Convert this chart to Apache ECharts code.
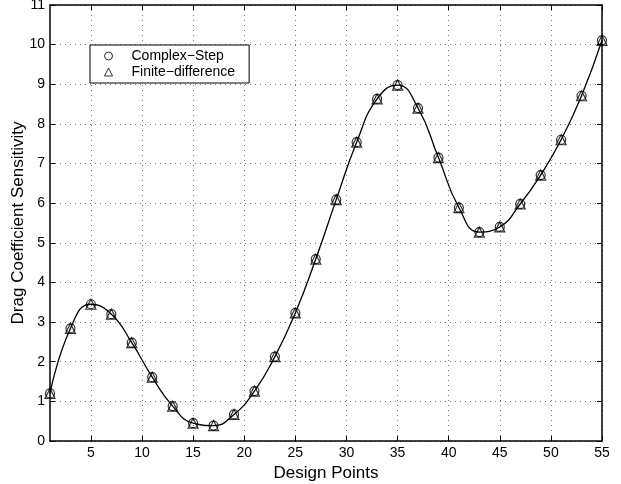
<!DOCTYPE html>
<html>
<head>
<meta charset="utf-8">
<script src="https://cdn.jsdelivr.net/npm/echarts@6/dist/echarts.min.js"></script>
<style>
  html, body { margin: 0; padding: 0; background: #fff; }
  #main { width: 621px; height: 484px; }
</style>
</head>
<body>
<div id="main"></div>
<script>
var designPoints = [1, 3, 5, 7, 9, 11, 13, 15, 17, 19, 21, 23, 25, 27, 29, 31, 33, 35, 37, 39, 41, 43, 45, 47, 49, 51, 53, 55];
var complexStep = [1.2, 2.84, 3.45, 3.2, 2.48, 1.61, 0.88, 0.45, 0.39, 0.67, 1.26, 2.13, 3.23, 4.59, 6.09, 7.54, 8.63, 8.98, 8.4, 7.15, 5.89, 5.27, 5.4, 5.98, 6.71, 7.6, 8.71, 10.11];
var finiteDiff = [1.2, 2.84, 3.45, 3.2, 2.48, 1.61, 0.88, 0.45, 0.39, 0.67, 1.26, 2.13, 3.23, 4.59, 6.09, 7.54, 8.63, 8.98, 8.4, 7.15, 5.89, 5.27, 5.4, 5.98, 6.71, 7.6, 8.71, 10.11];
var xTicks = [5, 10, 15, 20, 25, 30, 35, 40, 45, 50, 55];

function pairs(xs, ys) {
  return xs.map(function (x, i) { return [x, ys[i]]; });
}

var font = '"Liberation Sans", Arial, Helvetica, sans-serif';
var myChart = echarts.init(document.getElementById('main'));

// dotted grid like matlab
var gridLine = { show: true, lineStyle: { color: '#777', type: [1, 4], width: 1 } };

myChart.setOption({
  animation: false,
  backgroundColor: '#fff',
  grid: { left: 50, right: 19, top: 5, bottom: 43, outerBoundsMode: 'none' },
  legend: {
    orient: 'vertical',
    left: 90,
    top: 45,
    data: ['Complex\u2212Step', 'Finite\u2212difference'],
    backgroundColor: '#fff',
    borderColor: '#000',
    borderWidth: 1,
    borderRadius: 0,
    padding: [4, 14, 4, 14],
    itemGap: 2,
    itemWidth: 8,
    itemHeight: 8,
    itemStyle: { borderWidth: 1 },
    textStyle: { fontFamily: font, fontSize: 14, color: '#000', padding: [0, 0, 0, 14] }
  },
  xAxis: [{
    type: 'value',
    min: 1,
    max: 55,
    name: 'Design Points',
    nameLocation: 'middle',
    nameGap: 24,
    nameMoveOverlap: false,
    nameTextStyle: { fontFamily: font, fontSize: 17, color: '#000' },
    axisLine: { show: true, onZero: false, lineStyle: { color: '#000', width: 1.5 } },
    axisTick: { show: true, inside: true, length: 5, customValues: xTicks, lineStyle: { color: '#000' } },
    axisLabel: { customValues: xTicks, fontFamily: font, fontSize: 14, color: '#000', margin: 5 },
    splitLine: gridLine
  }, {
    type: 'value',
    position: 'top',
    min: 1,
    max: 55,
    axisLine: { show: true, onZero: false, lineStyle: { color: '#000', width: 1.5 } },
    axisTick: { show: true, inside: true, length: 5, customValues: xTicks, lineStyle: { color: '#000' } },
    axisLabel: { show: false },
    splitLine: { show: false }
  }],
  yAxis: [{
    type: 'value',
    min: 0,
    max: 11,
    interval: 1,
    name: 'Drag Coefficient Sensitivity',
    nameLocation: 'middle',
    nameGap: 23,
    nameMoveOverlap: false,
    nameTextStyle: { fontFamily: font, fontSize: 17, color: '#000' },
    axisLine: { show: true, onZero: false, lineStyle: { color: '#000', width: 1.5 } },
    axisTick: { show: true, inside: true, length: 5, lineStyle: { color: '#000' } },
    axisLabel: { fontFamily: font, fontSize: 14, color: '#000', margin: 5 },
    splitLine: gridLine
  }, {
    type: 'value',
    position: 'right',
    min: 0,
    max: 11,
    interval: 1,
    axisLine: { show: true, onZero: false, lineStyle: { color: '#000', width: 1.5 } },
    axisTick: { show: true, inside: true, length: 5, lineStyle: { color: '#000' } },
    axisLabel: { show: false },
    splitLine: { show: false }
  }],
  series: [{
    name: 'curve',
    type: 'line',
    smooth: 0.5,
    showSymbol: false,
    symbol: 'none',
    data: pairs(designPoints, complexStep),
    lineStyle: { color: '#000', width: 1.3 },
    z: 2
  }, {
    name: 'Complex\u2212Step',
    type: 'scatter',
    symbol: 'circle',
    symbolSize: 9,
    data: pairs(designPoints, complexStep),
    itemStyle: { color: 'rgba(0,0,0,0)', borderColor: '#000', borderWidth: 1.2 },
    z: 3
  }, {
    name: 'Finite\u2212difference',
    type: 'scatter',
    symbol: 'triangle',
    symbolSize: 10,
    data: pairs(designPoints, finiteDiff),
    itemStyle: { color: 'rgba(0,0,0,0)', borderColor: '#000', borderWidth: 1.2 },
    z: 3
  }]
});
</script>
</body>
</html>
